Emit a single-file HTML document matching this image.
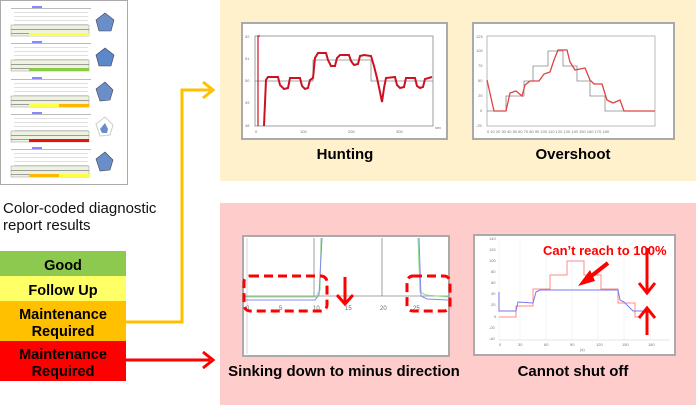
<!DOCTYPE html>
<html><head><meta charset="utf-8"><style>
html,body{margin:0;padding:0;background:#fff;}
body{width:696px;height:405px;overflow:hidden;font-family:"Liberation Sans",Arial,sans-serif;}
</style></head><body>
<svg width="696" height="405" viewBox="0 0 696 405" xmlns="http://www.w3.org/2000/svg" font-family="Liberation Sans, Arial, sans-serif">
<rect x="0" y="0" width="696" height="405" fill="#fff"/>
<rect x="220" y="0" width="476" height="181" fill="#fff1cc"/>
<rect x="220" y="203" width="476" height="202" fill="#ffcccc"/>

<rect x="0.5" y="0.5" width="127" height="184" fill="#fff" stroke="#aaa"/>
<g>
<g transform="translate(0,5)">
 <rect x="11" y="3" width="80" height="1" fill="#bbb"/><rect x="32" y="1" width="10" height="2" fill="#88f"/>
 <rect x="14" y="7" width="74" height="0.6" fill="#ccc"/><rect x="14" y="11" width="74" height="0.6" fill="#ccc"/><rect x="14" y="15" width="74" height="0.6" fill="#ccc"/><rect x="14" y="19" width="74" height="0.6" fill="#ccc"/>
 <rect x="11" y="20" width="78" height="11" fill="#eef2e0" stroke="#999" stroke-width="0.5"/>
 <rect x="11" y="24" width="78" height="0.6" fill="#666"/><rect x="11" y="28" width="78" height="0.6" fill="#666"/>
 <rect x="29" y="28" width="30" height="3" fill="#ffff44"/><rect x="59" y="28" width="30" height="3" fill="#ffff44"/>
 <polygon points="105,8 114,15 111,26 99,26 96,15" fill="#6a8fc8" stroke="#445" stroke-width="0.6"/>
</g>
<g transform="translate(0,40)">
 <rect x="11" y="3" width="80" height="1" fill="#bbb"/><rect x="32" y="1" width="10" height="2" fill="#88f"/>
 <rect x="14" y="7" width="74" height="0.6" fill="#ccc"/><rect x="14" y="11" width="74" height="0.6" fill="#ccc"/><rect x="14" y="15" width="74" height="0.6" fill="#ccc"/><rect x="14" y="19" width="74" height="0.6" fill="#ccc"/>
 <rect x="11" y="20" width="78" height="11" fill="#eef2e0" stroke="#999" stroke-width="0.5"/>
 <rect x="11" y="24" width="78" height="0.6" fill="#666"/><rect x="11" y="28" width="78" height="0.6" fill="#666"/>
 <rect x="29" y="28" width="30" height="3" fill="#88cc44"/><rect x="59" y="28" width="30" height="3" fill="#88cc44"/>
 <polygon points="105,8 114,15 111,26 99,26 96,15" fill="#5a88c8" stroke="#445" stroke-width="0.6"/>
</g>
<g transform="translate(0,76)">
 <rect x="11" y="3" width="80" height="1" fill="#bbb"/><rect x="32" y="1" width="10" height="2" fill="#88f"/>
 <rect x="14" y="7" width="74" height="0.6" fill="#ccc"/><rect x="14" y="11" width="74" height="0.6" fill="#ccc"/><rect x="14" y="15" width="74" height="0.6" fill="#ccc"/><rect x="14" y="19" width="74" height="0.6" fill="#ccc"/>
 <rect x="11" y="20" width="78" height="11" fill="#eef2e0" stroke="#999" stroke-width="0.5"/>
 <rect x="11" y="24" width="78" height="0.6" fill="#666"/><rect x="11" y="28" width="78" height="0.6" fill="#666"/>
 <rect x="29" y="28" width="30" height="3" fill="#ffff44"/><rect x="59" y="28" width="30" height="3" fill="#ffb800"/>
 <polygon points="105,6 113,14 110,24 100,25 96,13" fill="#6a8fc8" stroke="#445" stroke-width="0.6"/>
</g>
<g transform="translate(0,111)">
 <rect x="11" y="3" width="80" height="1" fill="#bbb"/><rect x="32" y="1" width="10" height="2" fill="#88f"/>
 <rect x="14" y="7" width="74" height="0.6" fill="#ccc"/><rect x="14" y="11" width="74" height="0.6" fill="#ccc"/><rect x="14" y="15" width="74" height="0.6" fill="#ccc"/><rect x="14" y="19" width="74" height="0.6" fill="#ccc"/>
 <rect x="11" y="20" width="78" height="11" fill="#eef2e0" stroke="#999" stroke-width="0.5"/>
 <rect x="11" y="24" width="78" height="0.6" fill="#666"/><rect x="11" y="28" width="78" height="0.6" fill="#666"/>
 <rect x="29" y="28" width="60" height="3" fill="#ee1111"/>
 <polygon points="105,6 113,14 110,24 100,25 96,13" fill="#fff" stroke="#ccc"/>
 <polygon points="105,12 108,18 107,22 102,22 100,18" fill="#6a8fc8"/>
</g>
<g transform="translate(0,146)">
 <rect x="11" y="3" width="80" height="1" fill="#bbb"/><rect x="32" y="1" width="10" height="2" fill="#88f"/>
 <rect x="14" y="7" width="74" height="0.6" fill="#ccc"/><rect x="14" y="11" width="74" height="0.6" fill="#ccc"/><rect x="14" y="15" width="74" height="0.6" fill="#ccc"/><rect x="14" y="19" width="74" height="0.6" fill="#ccc"/>
 <rect x="11" y="20" width="78" height="11" fill="#eef2e0" stroke="#999" stroke-width="0.5"/>
 <rect x="11" y="24" width="78" height="0.6" fill="#666"/><rect x="11" y="28" width="78" height="0.6" fill="#666"/>
 <rect x="29" y="28" width="30" height="3" fill="#ffb800"/><rect x="59" y="28" width="30" height="3" fill="#ffff44"/>
 <polygon points="105,6 113,14 110,24 100,25 96,13" fill="#6a8fc8" stroke="#445" stroke-width="0.6"/>
</g>
</g>

<text x="3" y="213" font-size="15" fill="#111">Color-coded diagnostic</text>
<text x="3" y="230" font-size="15" fill="#111">report results</text>

<rect x="0" y="251" width="126" height="25" fill="#8ec94f"/>
<rect x="0" y="276" width="126" height="25" fill="#ffff66"/>
<rect x="0" y="301" width="126" height="40" fill="#ffc000"/>
<rect x="0" y="341" width="126" height="40" fill="#ff0000"/>
<g font-size="14.5" font-weight="bold" text-anchor="middle" fill="#000">
<text x="63" y="270">Good</text>
<text x="63" y="295">Follow Up</text>
<text x="63" y="319">Maintenance</text><text x="63" y="336">Required</text>
<text x="63" y="359">Maintenance</text><text x="63" y="376">Required</text>
</g>

<polyline points="126,322 182,322 182,90 210,90" fill="none" stroke="#ffc000" stroke-width="3"/>
<polyline points="203,82 213,90 203,98" fill="none" stroke="#ffc000" stroke-width="3"/>
<line x1="126" y1="360" x2="210" y2="360" stroke="#ff0000" stroke-width="3"/>
<polyline points="203,352 213,360 203,368" fill="none" stroke="#ff0000" stroke-width="3"/>

<!-- Hunting -->
<rect x="242" y="23" width="205" height="116" fill="#fff" stroke="#aaa" stroke-width="2"/>
<rect x="255" y="36" width="178" height="90" fill="none" stroke="#888" stroke-width="0.8"/>
<polyline points="255,81 313,81 313,60 371,60 371,81 433,81" fill="none" stroke="#888" stroke-width="0.8"/>
<polyline points="258,126 258,36 260,36" fill="none" stroke="#cc1122" stroke-width="1.2"/>
<polyline points="264,126 266,80 268,77 278,77 280,85 284,89 288,88 290,78 300,78 302,86 305,89 308,88 310,80 313,78 315,58 318,53 326,53 328,60 331,66 335,66 337,58 340,55 349,55 351,61 354,65 358,64 360,56 364,55 371,56 374,66 377,78 380,92 382,102 384,88 386,78 395,77 397,85 400,88 404,87 406,78 415,78 417,86 420,88 423,87 425,79 432,77" fill="none" stroke="#cc1122" stroke-width="2"/>
<g font-size="4" fill="#777"><text x="245" y="38">52</text><text x="245" y="60">51</text><text x="245" y="82">50</text><text x="245" y="104">49</text><text x="245" y="127">48</text><text x="255" y="133">0</text><text x="300" y="133">100</text><text x="348" y="133">200</text><text x="396" y="133">300</text><text x="435" y="129">sec</text></g>
<text x="345" y="159" font-size="15" font-weight="bold" text-anchor="middle" fill="#000">Hunting</text>

<!-- Overshoot -->
<rect x="473" y="23" width="201" height="116" fill="#fff" stroke="#aaa" stroke-width="2"/>
<rect x="487" y="36" width="168" height="90" fill="none" stroke="#aaa" stroke-width="0.8"/>
<polyline points="487,111 506,111 506,96 524,96 524,81 533,81 533,66 548,66 548,51 563,51 563,66 577,66 577,81 590,81 590,96 605,96 605,111 655,111" fill="none" stroke="#888" stroke-width="0.8"/>
<polyline points="487,80 494,111 506,111 510,93 516,91 522,96 525,85 530,81 539,81 544,74 550,72 554,60 558,50 567,50 570,62 575,70 585,68 590,80 594,84 602,84 607,100 613,103 620,100 624,111 655,111" fill="none" stroke="#dd4444" stroke-width="1.3"/>
<g font-size="4" fill="#777"><text x="476" y="38">125</text><text x="476" y="52">100</text><text x="478" y="67">75</text><text x="478" y="82">50</text><text x="478" y="97">25</text><text x="480" y="112">0</text><text x="476" y="127">-25</text><text x="487" y="133">0  10  20  30  40  50  60  70  80  90 100 110 120 130 140 150 160 170 180</text></g>
<text x="573" y="159" font-size="15" font-weight="bold" text-anchor="middle" fill="#000">Overshoot</text>

<!-- Sinking -->
<rect x="243" y="236" width="206" height="120" fill="#fff" stroke="#aaa" stroke-width="2"/>
<line x1="247" y1="238" x2="247" y2="354" stroke="#ccc" stroke-width="0.8"/>
<line x1="245" y1="296" x2="448" y2="296" stroke="#888" stroke-width="0.8"/>
<line x1="314" y1="238" x2="314" y2="296" stroke="#888" stroke-width="0.8"/>
<line x1="382" y1="238" x2="382" y2="296" stroke="#888" stroke-width="0.8"/>
<polyline points="245,297 316,297 320,290 321,238" fill="none" stroke="#88dd88" stroke-width="1"/>
<polyline points="245,300 315,300 319,295 322,238" fill="none" stroke="#8888ee" stroke-width="1"/>
<polyline points="418,238 420,292 426,295 448,297" fill="none" stroke="#88dd88" stroke-width="1"/>
<polyline points="419,238 421,296 427,299 448,300" fill="none" stroke="#8888ee" stroke-width="1"/>
<g font-size="6" fill="#666"><text x="246" y="310">0</text><text x="279" y="310">5</text><text x="313" y="310">10</text><text x="345" y="310">15</text><text x="380" y="310">20</text><text x="413" y="310">25</text></g>
<rect x="244" y="276" width="83" height="35" rx="6" fill="none" stroke="#ff0000" stroke-width="3" stroke-dasharray="9,5"/>
<rect x="407" y="276" width="43" height="35" rx="6" fill="none" stroke="#ff0000" stroke-width="3" stroke-dasharray="9,5"/>
<line x1="345" y1="277" x2="345" y2="303" stroke="#ff0000" stroke-width="3"/>
<polyline points="337,295 345,304 353,295" fill="none" stroke="#ff0000" stroke-width="3"/>
<text x="344" y="376" font-size="15" font-weight="bold" text-anchor="middle" fill="#000">Sinking down to minus direction</text>

<!-- Cannot shut off -->
<rect x="474" y="235" width="201" height="120" fill="#fff" stroke="#aaa" stroke-width="2"/>
<g stroke="#eee" stroke-width="0.6">
<line x1="499" y1="239" x2="499" y2="340"/><line x1="520" y1="239" x2="520" y2="340"/><line x1="546" y1="239" x2="546" y2="340"/><line x1="572" y1="239" x2="572" y2="340"/><line x1="598" y1="239" x2="598" y2="340"/><line x1="624" y1="239" x2="624" y2="340"/><line x1="650" y1="239" x2="650" y2="340"/>
</g>
<line x1="499" y1="340" x2="670" y2="340" stroke="#ccc" stroke-width="0.6"/>
<polyline points="499,317 516,317 516,306 533,306 533,289 550,289 550,275 567,275 567,261 584,261 584,275 601,275 601,289 618,289 618,303 635,303 635,317 640,317" fill="none" stroke="#ff8888" stroke-width="1"/>
<polyline points="499,292 499,311 516,311 518,302 533,303 536,292 540,290 618,290 620,300 624,302 630,308 633,311 650,311" fill="none" stroke="#7777ee" stroke-width="1"/>
<g font-size="4" fill="#777"><text x="489" y="240">140</text><text x="489" y="251">120</text><text x="489" y="262">100</text><text x="491" y="273">80</text><text x="491" y="284">60</text><text x="491" y="295">40</text><text x="491" y="306">20</text><text x="494" y="318">0</text><text x="489" y="329">-20</text><text x="489" y="340">-40</text>
<text x="499" y="346">0</text><text x="518" y="346">30</text><text x="544" y="346">60</text><text x="570" y="346">90</text><text x="596" y="346">120</text><text x="622" y="346">150</text><text x="648" y="346">180</text><text x="580" y="351">(s)</text></g>
<text x="543" y="255" font-size="13" font-weight="bold" fill="#ff0000">Can’t reach to 100%</text>
<line x1="608" y1="263" x2="585" y2="281" stroke="#ff0000" stroke-width="4"/>
<polygon points="578,286 590,270 595,281" fill="#ff0000"/>
<line x1="647" y1="248" x2="647" y2="292" stroke="#ff0000" stroke-width="3"/>
<polyline points="639,283 647,293 655,283" fill="none" stroke="#ff0000" stroke-width="3"/>
<line x1="647" y1="310" x2="647" y2="335" stroke="#ff0000" stroke-width="3"/>
<polyline points="639,318 647,308 655,318" fill="none" stroke="#ff0000" stroke-width="3"/>
<text x="573" y="376" font-size="15" font-weight="bold" text-anchor="middle" fill="#000">Cannot shut off</text>
</svg>
</body></html>
